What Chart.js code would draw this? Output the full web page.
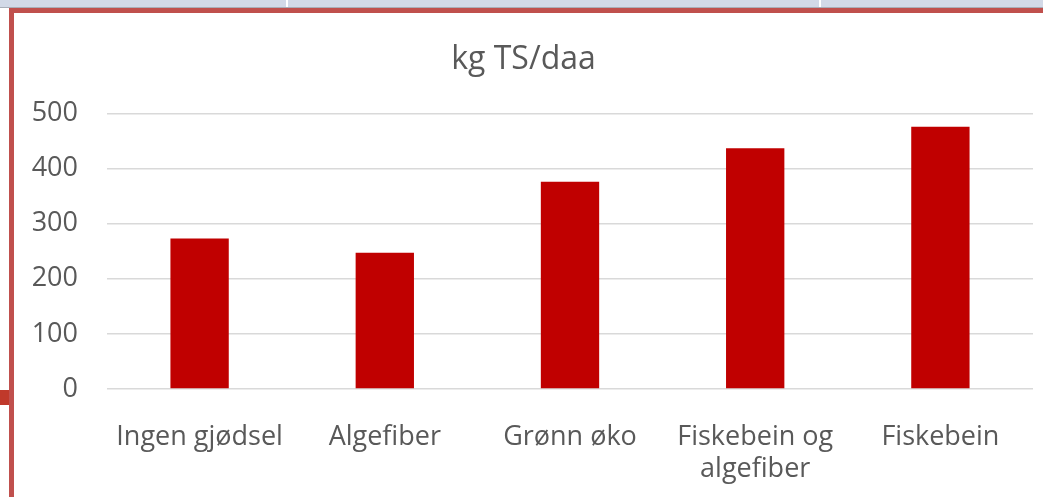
<!DOCTYPE html>
<html>
<head>
<meta charset="utf-8">
<script src="https://cdn.jsdelivr.net/npm/chart.js@4.4.1/dist/chart.umd.min.js"></script>
<style>
html,body{margin:0;padding:0;width:1043px;height:497px;overflow:hidden;background:#fff;}
#band{position:absolute;left:0;top:0;width:1043px;height:7px;background:#d2d9e7;border-bottom:1px solid #a9aeb8;}
.div{position:absolute;top:0;width:2px;height:7px;background:#fff;}
#frameTop{position:absolute;left:9px;top:8px;width:1034px;height:5px;background:#c0504d;}
#frameLeft{position:absolute;left:9px;top:8px;width:5px;height:489px;background:#c0504d;}
#tab{position:absolute;left:0;top:390px;width:9px;height:15px;background:#c0392b;}
#wrap{position:absolute;left:14px;top:13px;width:1029px;height:484px;}
</style>
</head>
<body>
<div id="band"></div>
<div class="div" style="left:286px"></div>
<div class="div" style="left:819px"></div>
<div id="frameTop"></div>
<div id="frameLeft"></div>
<div id="tab"></div>
<div id="wrap"><canvas id="c" width="1029" height="484"></canvas></div>
<script>
const categories = [["Ingen gjødsel"], ["Algefiber"], ["Grønn øko"], ["Fiskebein og", "algefiber"], ["Fiskebein"]];
const values = [273, 247, 376, 437, 476];
const yTicks = [0, 100, 200, 300, 400, 500];
const titleText = "kg TS/daa";

const font = "'Open Sans', 'Noto Sans', sans-serif";
new Chart(document.getElementById('c'), {
  type: 'bar',
  data: {
    labels: categories,
    datasets: [{
      data: values,
      backgroundColor: '#c00000',
      borderWidth: 0,
      barPercentage: 0.63,
      categoryPercentage: 0.5
    }]
  },
  options: {
    responsive: false,
    animation: false,
    devicePixelRatio: 1,
    layout: { padding: { left: 0, right: 10, top: 0, bottom: 0 } },
    plugins: {
      legend: { display: false },
      tooltip: { enabled: false },
      title: {
        display: true, text: titleText, color: '#595959',
        font: { family: font, size: 32, weight: 'normal' },
        padding: { top: 28, bottom: 34 }
      }
    },
    scales: {
      y: {
        min: 0, max: 500,
        afterBuildTicks: (s) => { s.ticks = yTicks.map(v => ({ value: v })); },
        afterFit: (s) => { s.width = 93; },
        ticks: { color: '#595959', font: { family: font, size: 27 }, padding: 29 },
        grid: { color: '#d9d9d9', lineWidth: 1.5, drawTicks: false },
        border: { display: false }
      },
      x: {
        afterFit: (s) => { s.height = 108; },
        ticks: { color: '#595959', font: { family: font, size: 27, lineHeight: 1.2 }, padding: 24, maxRotation: 0, autoSkip: false },
        grid: { display: false },
        border: { display: false }
      }
    }
  }
});
</script>
</body>
</html>
